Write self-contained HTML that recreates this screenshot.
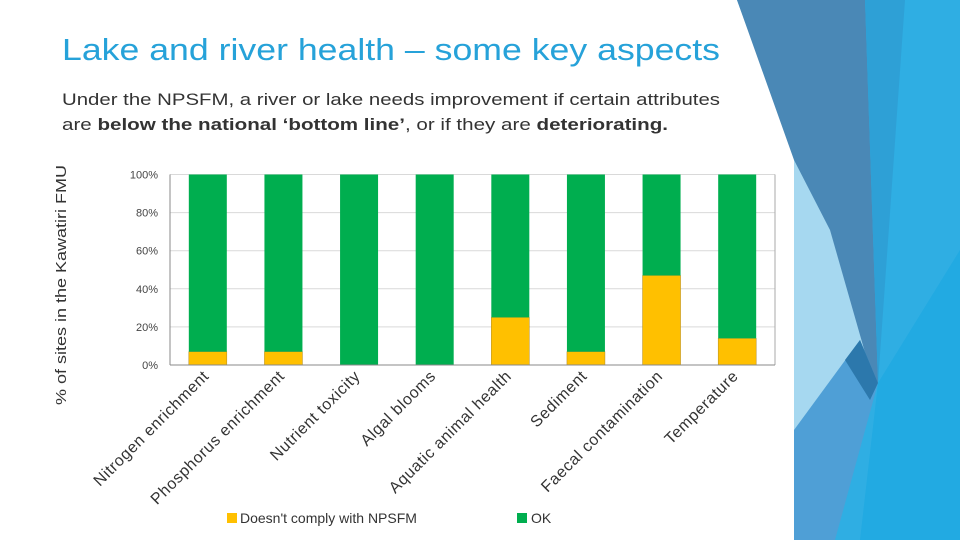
<!DOCTYPE html>
<html><head><meta charset="utf-8"><style>
html,body{margin:0;padding:0;background:#fff;}
svg{display:block;font-family:"Liberation Sans",sans-serif;}
</style></head><body>
<svg width="960" height="540" viewBox="0 0 960 540">
<g>
  <polygon points="737,0 960,0 960,540 794,540 794,155" fill="#2faee3"/>
  <polygon points="737,0 865,0 878,383 830,280 794,160" fill="#4a88b6"/>
  <polygon points="865,0 905,0 878,383" fill="#2ea0d6"/>
  <polygon points="794,160 830,230 870,370 794,440" fill="#a6d8f0"/>
  <polygon points="794,430 860,340 878,383 835,540 794,540" fill="#4f9fd6"/>
  <polygon points="878,383 960,250 960,540 860,540" fill="#22aae2"/>
  <polygon points="860,340 878,383 870,400 845,360" fill="#2c78ac"/>
</g>
<text x="62" y="60" font-size="31" fill="#26a2d9" textLength="658" lengthAdjust="spacingAndGlyphs">Lake and river health – some key aspects</text>
<text x="62" y="105" font-size="17" fill="#333" textLength="658" lengthAdjust="spacingAndGlyphs">Under the NPSFM, a river or lake needs improvement if certain attributes</text>
<text x="62" y="130" font-size="17" fill="#333" textLength="606" lengthAdjust="spacingAndGlyphs">are <tspan font-weight="bold">below the national ‘bottom line’</tspan>, or if they are <tspan font-weight="bold">deteriorating.</tspan></text>
<text transform="translate(66,285) rotate(-90)" text-anchor="middle" font-size="15" fill="#333" textLength="240" lengthAdjust="spacingAndGlyphs">% of sites in the Kawatiri FMU</text>
<g id="chart"></g>
<g>
  <rect x="227" y="513" width="10" height="10" fill="#ffc000"/>
  <text x="240" y="523" font-size="14" fill="#333">Doesn't comply with NPSFM</text>
  <rect x="517" y="513" width="10" height="10" fill="#00ae4f"/>
  <text x="531" y="523" font-size="14" fill="#333">OK</text>
</g>
</svg>
<script>
const categories = ["Nitrogen enrichment","Phosphorus enrichment","Nutrient toxicity","Algal blooms","Aquatic animal health","Sediment","Faecal contamination","Temperature"];
const nonComply = [7, 7, 0, 0, 25, 7, 47, 14];
const okValues = [93, 93, 100, 100, 75, 93, 53, 86];
const yTicks = [0, 20, 40, 60, 80, 100];
const yTickLabels = ["0%","20%","40%","60%","80%","100%"];

const NS = "http://www.w3.org/2000/svg";
const g = document.getElementById("chart");
const X0 = 170, X1 = 775, Y0 = 365, Y1 = 174.5;
const band = (X1 - X0) / categories.length;
const yScale = v => Y0 - (v / 100) * (Y0 - Y1);
const xCenter = i => X0 + band * (i + 0.5);
function mk(tag, attrs) { const e = document.createElementNS(NS, tag); for (const k in attrs) e.setAttribute(k, attrs[k]); g.appendChild(e); return e; }

yTicks.forEach((t, i) => {
  const y = yScale(t);
  const l = mk("line", {x1: X0, x2: X1, y1: y, y2: y, stroke: "#d9d9d9", "stroke-width": 1});
  
  
  const tx = mk("text", {x: 158, y: y + 4, "text-anchor": "end", "font-size": 11, fill: "#444"});
  tx.textContent = yTickLabels[i];
  
  
});
const ax = mk("line", {x1: X0, x2: X0, y1: Y1, y2: Y0, stroke: "#888", "stroke-width": 1});


const rx = mk("line", {x1: X1, x2: X1, y1: Y1, y2: Y0, stroke: "#aaa", "stroke-width": 1});



const bw = 38;
categories.forEach((c, i) => {
  const cx = xCenter(i);
  const yNc = yScale(nonComply[i]);
  const yOk = yScale(nonComply[i] + okValues[i]);
  const r1 = mk("rect", {x: cx - bw/2, y: yNc, width: bw, height: Y0 - yNc, fill: "#ffc000", stroke: "#b08a20", "stroke-width": 0.5});
  
  
  const r2 = mk("rect", {x: cx - bw/2, y: yOk, width: bw, height: yNc - yOk, fill: "#00ae4f"});
  
  
  const t = mk("text", {transform: `translate(${cx + 2},${Y0 + 12}) rotate(-45)`, "text-anchor": "end", "font-size": 16, fill: "#333", "letter-spacing": "0.6"});
  t.textContent = c;
  
  
});
const bx = mk("line", {x1: X0, x2: X1, y1: Y0, y2: Y0, stroke: "#888", "stroke-width": 1});


</script>
</body></html>
